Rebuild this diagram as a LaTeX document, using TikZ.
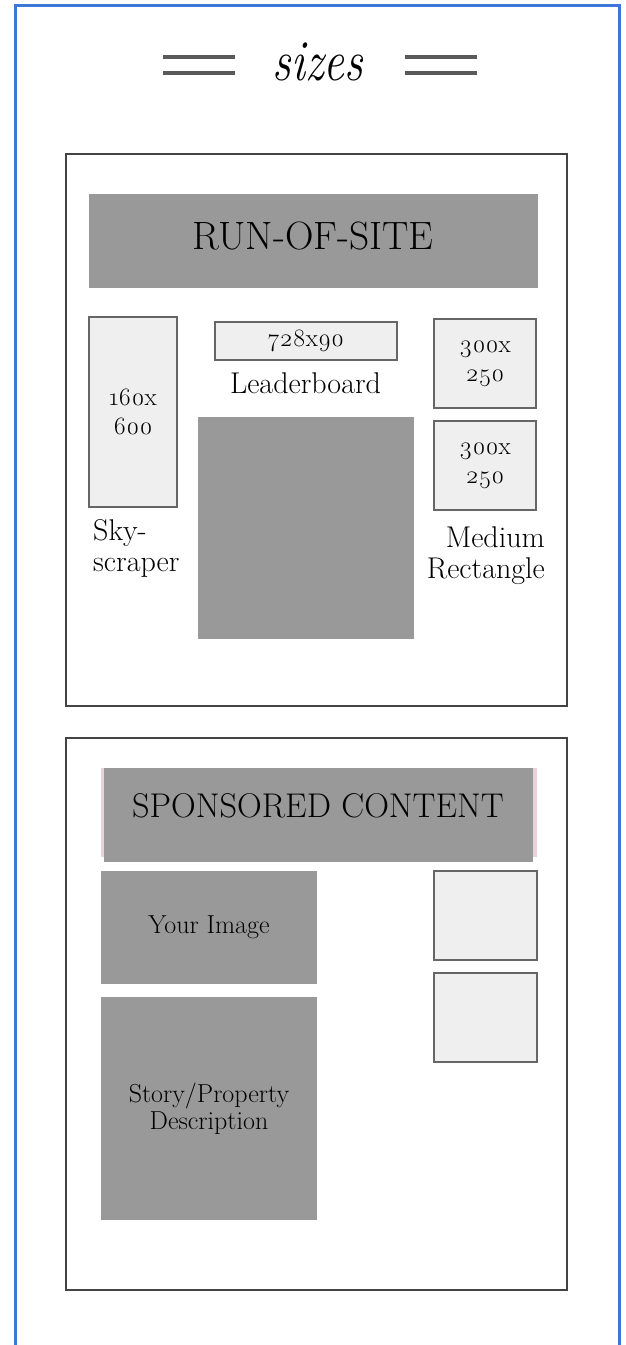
\documentclass[tikz,border=0pt]{standalone}
\usepackage{fontspec}
\setmainfont{Latin Modern Roman}[Numbers=OldStyle]
\definecolor{frameblue}{HTML}{3C78D8}
\definecolor{boxline}{HTML}{434343}
\definecolor{adline}{HTML}{666666}
\definecolor{adfill}{HTML}{EFEFEF}
\definecolor{blockgray}{HTML}{999999}
\definecolor{pinkish}{HTML}{EAD1DC}
\definecolor{titlegray}{HTML}{595959}
\begin{document}
\begin{tikzpicture}[x=1pt,y=-1pt,
  outerbox/.style={draw=boxline, line width=1.5pt, inner sep=0pt},
  adbox/.style={draw=adline, fill=adfill, line width=1.5pt, inner sep=0pt, align=center, font=\fontsize{25}{29}\selectfont},
  grayblock/.style={fill=blockgray, inner sep=0pt, align=center, font=\fontsize{26}{27}\selectfont},
  banner/.style={inner sep=0pt},
  lbl/.style={inner sep=0pt, font=\fontsize{30}{31}\selectfont},
  titleline/.style={draw=titlegray, line width=3.5pt}
]
\useasboundingbox (0,0) rectangle (625,1345);
\fill[white] (0,0) rectangle (625,1345);

% blue frame
\coordinate (fbl) at (15,1350);
\coordinate (ftl) at (15,5);
\coordinate (ftr) at (619,5);
\coordinate (fbr) at (619,1350);
\draw[frameblue, line width=3pt] (fbl) -- (ftl) -- (ftr) -- (fbr);

% title
\node[anchor=base, inner sep=0pt, font=\fontsize{58}{60}\selectfont\itshape] (title) at (318,80) {\scalebox{0.8}[1]{sizes}};
\coordinate (la1) at (163,57); \coordinate (lb1) at (235,57);
\coordinate (la2) at (163,73); \coordinate (lb2) at (235,73);
\coordinate (ra1) at (405,57); \coordinate (rb1) at (477,57);
\coordinate (ra2) at (405,73); \coordinate (rb2) at (477,73);
\draw[titleline] (la1) -- (lb1);
\draw[titleline] (la2) -- (lb2);
\draw[titleline] (ra1) -- (rb1);
\draw[titleline] (ra2) -- (rb2);

% ---------- Run-of-site ----------
\node[outerbox, minimum width=501pt, minimum height=552pt] (box1) at (316.5,430) {};
\node[grayblock, minimum width=449pt, minimum height=94pt] (ros) at (313.5,241) {};
\node[banner, font=\fontsize{39.5}{44}\selectfont] (rostext) at (313,236) {RUN-OF-SITE};

\node[adbox, minimum width=88pt, minimum height=190pt] (sky) at (133,412) {160x\\600};
\node[lbl, anchor=north west, align=left] (skylbl) at (93,519) {Sky-\\scraper};

\node[adbox, minimum width=182pt, minimum height=38pt] (leader) at (306,341) {728x90};
\node[lbl, anchor=base] (leaderlbl) at (305.5,393) {Leaderboard};

\node[grayblock, minimum width=216pt, minimum height=222pt] (bigsq) at (306,528) {};

\node[adbox, minimum width=102pt, minimum height=89pt] (med1) at (485,363.5) {300x\\250};
\node[adbox, minimum width=102pt, minimum height=89pt] (med2) at (485,465.5) {300x\\250};
\node[lbl, anchor=north east, align=right] (medlbl) at (545,526) {Medium\\Rectangle};

% ---------- Sponsored content ----------
\node[outerbox, minimum width=501pt, minimum height=552pt] (box2) at (316.5,1014) {};
\node[fill=pinkish, inner sep=0pt, minimum width=436pt, minimum height=89pt] (pink) at (319,812.5) {};
\node[grayblock, minimum width=429pt, minimum height=94pt] (spon) at (318.5,815) {};
\node[banner, font=\fontsize{34.3}{38}\selectfont] (spontext) at (318,806) {SPONSORED CONTENT};

\node[grayblock, minimum width=216pt, minimum height=113pt] (img) at (209,927.5) {Your Image};
\node[grayblock, minimum width=216pt, minimum height=223pt] (story) at (209,1108.5) {Story/Property\\Description};

\node[adbox, minimum width=103pt, minimum height=89pt] (sq1) at (485.5,915.5) {};
\node[adbox, minimum width=103pt, minimum height=89pt] (sq2) at (485.5,1017.5) {};
\end{tikzpicture}
\end{document}
